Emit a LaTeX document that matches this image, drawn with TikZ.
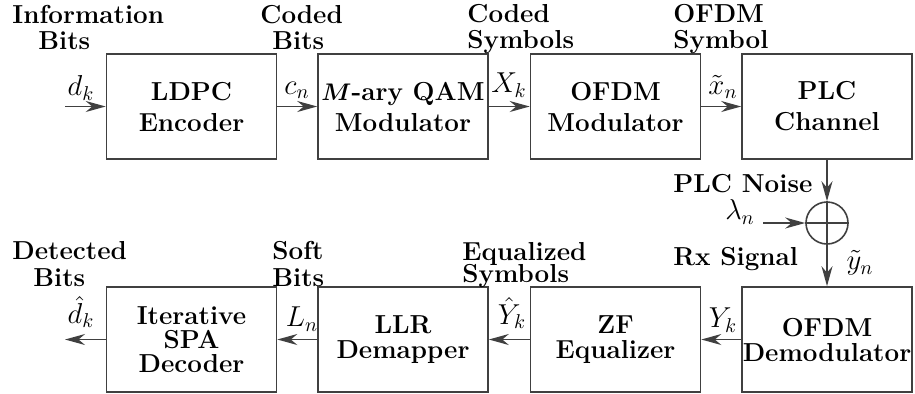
\documentclass[tikz,border=0pt]{standalone}
\usepackage{bm}
\usetikzlibrary{arrows.meta}
\begin{document}
\begin{tikzpicture}[x=0.5pt,y=-0.5pt,
  every node/.style={font=\fontsize{13}{15.5}\selectfont\bfseries},
  blockbox/.style={draw=black!75,line width=0.8pt,minimum width=85pt,minimum height=52.5pt,
    inner sep=0pt,align=center},
  sig/.style={draw=black!75,line width=0.8pt,-{Stealth[length=10pt,width=5.5pt]}},
  lbl/.style={inner sep=0pt,anchor=base west,align=left},
  mlbl/.style={inner sep=0pt,anchor=center,font=\fontsize{14.5}{17}\selectfont}]
\useasboundingbox (0,0) rectangle (915,393);

% transmitter chain
\node[blockbox] (ldpc) at (191.5,106.5) {LDPC\\Encoder};
\node[blockbox] (qam) at (403,106.5) {$\bm{M}$-ary QAM\\Modulator};
\node[blockbox] (ofdm) at (615.5,106.5) {OFDM\\Modulator};
\node[blockbox] (plc) at (827,106.5) {PLC\\Channel};

% receiver chain
\node[blockbox] (spa) at (191.5,339.5) {Iterative\\[-3.5pt]SPA\\[-3.5pt]Decoder};
\node[blockbox] (llr) at (403,339.5) {LLR\\[-3pt]Demapper};
\node[blockbox] (zf) at (615.5,339.5) {ZF\\[-3pt]Equalizer};
\node[blockbox] (demod) at (827,339.5) {OFDM\\[-3pt]Demodulator};

% noise adder
\node[draw=black!75,line width=0.8pt,circle,minimum size=21pt,inner sep=0pt] (add) at (827,223) {};
\draw[black!75,line width=0.8pt] (add.west) -- (add.east) (add.north) -- (add.south);

\coordinate (din) at (65,106.5);
\coordinate (dout) at (65,339.5);
\coordinate (nin) at (763,223);

% connectors
\draw[sig] (din) -- (ldpc);
\draw[sig] (ldpc) -- (qam);
\draw[sig] (qam) -- (ofdm);
\draw[sig] (ofdm) -- (plc);
\draw[sig] (plc) -- (add);
\draw[sig] (nin) -- (add);
\draw[sig] (add) -- (demod);
\draw[sig] (demod) -- (zf);
\draw[sig] (zf) -- (llr);
\draw[sig] (llr) -- (spa);
\draw[sig] (spa) -- (dout);

% signal names
\node[mlbl] at (81,88) {$d_k$};
\node[mlbl] at (297,90) {$c_n$};
\node[mlbl] at (509,85) {$X_k$};
\node[mlbl] at (723,87) {$\tilde{x}_n$};
\node[mlbl] at (740,212) {$\lambda_n$};
\node[mlbl] at (860,263) {$\tilde{y}_n$};
\node[mlbl] at (723,320) {$Y_k$};
\node[mlbl] at (512,313) {$\hat{Y}_k$};
\node[mlbl] at (302,319) {$L_n$};
\node[mlbl] at (81,312) {$\hat{d}_k$};

% stage descriptions (base anchor sits on the last line)
\node[lbl] at (12,49) {Information\\[-2.5pt]\hspace*{13pt}Bits};
\node[lbl] at (260,49) {Coded\\[-2.5pt]\hspace*{6pt}Bits};
\node[lbl] at (467,48) {Coded\\[-2.5pt]Symbols};
\node[lbl] at (673,48) {OFDM\\[-2.5pt]Symbol};
\node[lbl] at (673,192) {PLC Noise};
\node[lbl] at (673,265) {Rx Signal};
\node[lbl] at (12,286) {Detected\\[-2pt]\hspace*{10.5pt}Bits};
\node[lbl] at (272,286) {Soft\\[-2pt]Bits};
\node[lbl] at (462,282) {Equalized\\[-4.5pt]Symbols};
\end{tikzpicture}
\end{document}
